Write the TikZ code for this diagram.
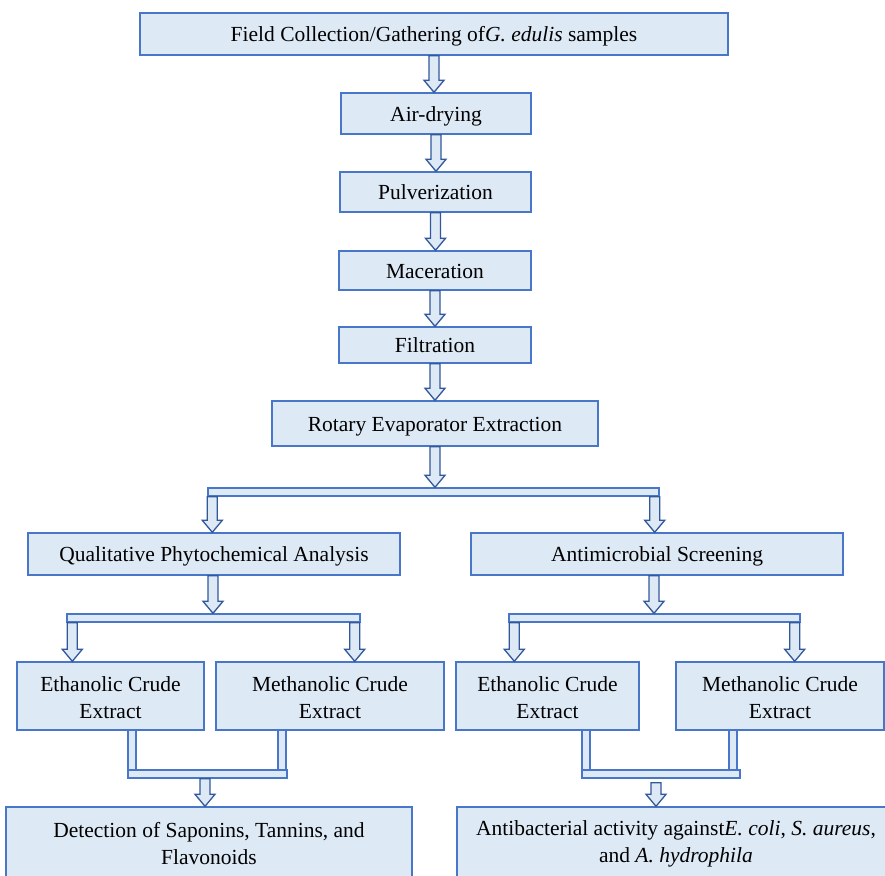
\documentclass[tikz,border=0pt]{standalone}
\usepackage{fontspec}
\setmainfont{Liberation Serif}
\usetikzlibrary{calc}
\definecolor{boxfill}{RGB}{222,233,246}
\definecolor{boxline}{RGB}{72,118,200}
\definecolor{arrline}{RGB}{50,88,156}
\newcommand\firststrut{\rule{0pt}{18pt}}
\tikzset{
  boxbase/.style={draw=boxline, fill=boxfill, line width=1.4pt, inner sep=0pt, align=center,
    font=\fontsize{21.5}{27}\selectfont},
  box/.style={boxbase, text height=15pt, text depth=0pt},
  twobox/.style={boxbase},
  barbox/.style={draw=boxline, fill=boxfill, line width=1.4pt, inner sep=0pt},
  blockarrow/.style={draw=arrline, fill=boxfill, line width=1.3pt, line join=miter},
}
\newcommand\blockarr[2]{%
  \draw[blockarrow] let \p1=#1, \p2=#2 in
   (\x1-5pt,\y1) -- (\x1-5pt,\y2+12pt) -- (\x1-10pt,\y2+12pt) -- (\x1,\y2)
   -- (\x1+10pt,\y2+12pt) -- (\x1+5pt,\y2+12pt) -- (\x1+5pt,\y1) -- cycle;}
\begin{document}
\begin{tikzpicture}[x=1pt,y=-1pt]
\useasboundingbox (0,0) rectangle (885,875);
\clip (0,0) rectangle (885,875);
% main chain
\node[box, minimum width=588pt, minimum height=42pt] (b1) at (434,34) {Field Collection/Gathering of\textit{G. edulis} samples};
\node[box, minimum width=190pt, minimum height=41pt] (b2) at (436,113.5) {Air-drying};
\node[box, minimum width=191pt, minimum height=40pt] (b3) at (435.5,192) {Pulverization};
\node[box, minimum width=192pt, minimum height=39pt] (b4) at (435,270.5) {Maceration};
\node[box, minimum width=192pt, minimum height=36pt] (b5) at (435,345) {Filtration};
\node[box, minimum width=326pt, minimum height=45pt] (b6) at (435,423.5) {Rotary Evaporator Extraction};
\node[barbox, minimum width=451pt, minimum height=8pt] (bar1) at (433.5,492) {};
% second level
\node[box, minimum width=372pt, minimum height=42pt] (q) at (214,554) {Qualitative Phytochemical Analysis};
\node[box, minimum width=372pt, minimum height=42pt] (a) at (657,554) {Antimicrobial Screening};
\node[barbox, minimum width=293pt, minimum height=8pt] (barL) at (213.5,618) {};
\node[barbox, minimum width=291pt, minimum height=8pt] (barR) at (654.5,618) {};
% extracts
\node[twobox, minimum width=187pt, minimum height=68pt] (eL) at (110.5,696) {\firststrut Ethanolic Crude\\Extract};
\node[twobox, minimum width=228pt, minimum height=68pt] (mL) at (330,696) {\firststrut Methanolic Crude\\Extract};
\node[twobox, minimum width=183pt, minimum height=68pt] (eR) at (547.5,696) {\firststrut Ethanolic Crude\\Extract};
\node[twobox, minimum width=208pt, minimum height=68pt] (mR) at (780,696) {\firststrut Methanolic Crude\\Extract};
\node[barbox, minimum width=159pt, minimum height=8pt] (barL3) at (207.5,774) {};
\node[barbox, minimum width=158pt, minimum height=8pt] (barR3) at (661,774) {};
% pipes
\coordinate (pL1) at (132,730); \coordinate (pL2) at (282,730);
\coordinate (pR1) at (586,730); \coordinate (pR2) at (733,730);
\foreach \p in {pL1,pL2,pR1,pR2}{
  \draw[barbox] ($(\p)+(-4,0)$) rectangle ($(\p)+(4,40)$);
}
% results
\node[twobox, minimum width=406pt, minimum height=70pt] (det) at (209,842) {\firststrut Detection of Saponins, Tannins, and\\Flavonoids};
\node[twobox, minimum width=438pt, minimum height=70pt] (anti) at (676,842) {\firststrut Antibacterial activity against\textit{E. coli}, \textit{S. aureus},\\and \textit{A. hydrophila}};
% arrows
\blockarr{(b1.south)}{(b2.north)}
\blockarr{(b2.south)}{(b3.north)}
\blockarr{(b3.south)}{(b4.north)}
\blockarr{(b4.south)}{(b5.north)}
\blockarr{(b5.south)}{(b6.north)}
\blockarr{(b6.south)}{(bar1.north)}
\blockarr{($(bar1.south west)+(5,0)$)}{(q.north-|213,0)}
\blockarr{($(bar1.south east)+(-5,0)$)}{(a.north-|654,0)}
\blockarr{(q.south-|213,0)}{(barL.north-|213,0)}
\blockarr{(a.south-|654,0)}{(barR.north-|654,0)}
\blockarr{($(barL.south west)+(6,0)$)}{(eL.north-|73,0)}
\blockarr{($(barL.south east)+(-6,0)$)}{(mL.north-|352,0)}
\blockarr{($(barR.south west)+(6,0)$)}{(eR.north-|515,0)}
\blockarr{($(barR.south east)+(-6,0)$)}{(mR.north-|794,0)}
\blockarr{($(barL3.south)+(-2.5,0)$)}{(det.north-|205,0)}
\blockarr{($(barR3.south)+(-5,4)$)}{(anti.north-|656,0)}
\end{tikzpicture}
\end{document}
